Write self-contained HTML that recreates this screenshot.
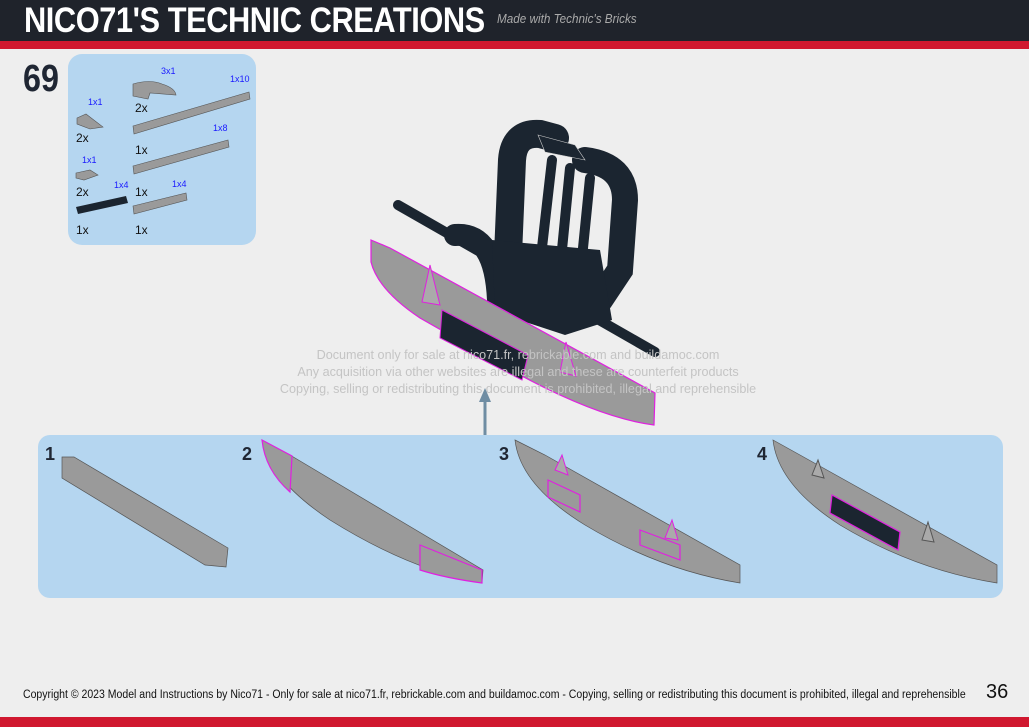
<!DOCTYPE html>
<html><head><meta charset="utf-8"><style>
body{margin:0;width:1029px;height:727px;background:#eeeeee;overflow:hidden;position:relative;font-family:"Liberation Sans",sans-serif}
.hdr{position:absolute;left:0;top:0;width:1029px;height:41px;background:#1f232b}
.red1{position:absolute;left:0;top:41px;width:1029px;height:8px;background:#d0182f}
.title{position:absolute;left:24px;top:1px;color:#fff;font-weight:bold;font-size:35px;letter-spacing:-0.5px;transform:scaleX(0.88);transform-origin:left top;white-space:nowrap}
.sub{position:absolute;left:497px;top:11px;color:#aaa;font-style:italic;font-size:13px;transform:scaleX(0.9);transform-origin:left top}
.red2{position:absolute;left:0;top:717px;width:1029px;height:10px;background:#d0182f}
.foot{position:absolute;left:23px;top:689px;font-size:11.5px;color:#111;transform:scaleX(0.913);transform-origin:left top;white-space:nowrap}
.pg{position:absolute;left:986px;top:681px;font-size:20px;color:#111}
.num{position:absolute;left:23px;top:58px;font-size:38px;font-weight:bold;color:#1f2633;transform:scaleX(0.85);transform-origin:left top}
</style></head><body>
<div class="hdr"></div><div class="red1"></div>
<div class="title">NICO71'S TECHNIC CREATIONS</div>
<div class="sub">Made with Technic's Bricks</div>
<div class="num">69</div>
<svg width="1029" height="727" style="position:absolute;left:0;top:0" font-family="Liberation Sans,sans-serif">
<!-- parts box -->
<rect x="68" y="54" width="188" height="191" rx="14" fill="#b5d6f0"/>
<g font-size="9" fill="#1a1aff">
<text x="161" y="74">3x1</text><text x="230" y="82">1x10</text><text x="88" y="105">1x1</text>
<text x="213" y="131">1x8</text><text x="82" y="163">1x1</text><text x="114" y="188">1x4</text><text x="172" y="187">1x4</text></g>
<g font-size="12" fill="#111">
<text x="135" y="112">2x</text><text x="76" y="142">2x</text><text x="135" y="154">1x</text>
<text x="76" y="196">2x</text><text x="135" y="196">1x</text><text x="76" y="234">1x</text><text x="135" y="234">1x</text></g>
<g fill="#9a9a9a" stroke="#555" stroke-width="0.6">
<path d="M133,84 Q150,79 162,84 Q175,88 176,95 L150,93 L148,99 L133,96Z"/>
<path d="M133,126 L249,92 L250,99 L134,134Z"/>
<path d="M133,166 L228,140 L229,147 L134,174Z"/>
<path d="M133,206 L186,193 L187,200 L134,214Z"/>
<path d="M77,118 L86,114 L103,127 L90,129 L77,124Z"/>
<path d="M76,173 L90,170 L98,175 L84,180 L76,178Z"/>
</g>
<path d="M76,207 L126,196 L128,203 L78,214Z" fill="#1b2530"/>
<!-- main model -->
<g stroke="#1b2530" fill="none" stroke-linecap="round">
<line x1="398" y1="205" x2="655" y2="352" stroke-width="10"/>
<path d="M508,255 L512,160 Q514,132 540,134 L555,138" stroke-width="28"/>
<path d="M585,160 Q625,165 625,200 L620,270 L600,300" stroke-width="26"/>
<line x1="552" y1="160" x2="540" y2="265" stroke-width="10"/>
<line x1="570" y1="168" x2="560" y2="270" stroke-width="10"/>
<line x1="590" y1="178" x2="580" y2="278" stroke-width="10"/>
<path d="M455,235 Q495,232 498,300" stroke-width="22"/>
</g>
<path d="M492,240 L600,250 L612,320 L565,335 L495,312Z" fill="#1b2530"/>
<path d="M538,135 L575,145 L585,160 L545,152Z" fill="#1b2530" stroke="#ccc" stroke-width="0.6"/>
<path d="M371,240 L390,248 L655,393 L654,425 Q600,418 520,375 L420,318 Q378,290 371,262Z" fill="#9a9a9a" stroke="#e020e0" stroke-width="1.2"/>
<path d="M442,310 L528,355 L522,380 L440,338Z" fill="#1b2530" stroke="#e020e0" stroke-width="1"/>
<path d="M422,302 L430,265 L440,305Z M560,372 L566,342 L576,376Z" fill="#aaa" stroke="#e020e0"/>
<g font-size="13" fill="#c4c4c4" text-anchor="middle" transform="translate(518,0) scale(0.97,1) translate(-518,0)">
<text x="518" y="359">Document only for sale at nico71.fr, rebrickable.com and buildamoc.com</text>
<text x="518" y="376">Any acquisition via other websites are illegal and these are counterfeit products</text>
<text x="518" y="393">Copying, selling or redistributing this document is prohibited, illegal and reprehensible</text>
</g>
<line x1="485" y1="435" x2="485" y2="400" stroke="#6f8da3" stroke-width="3"/>
<path d="M479,402 L485,388 L491,402Z" fill="#6f8da3"/>
<!-- sub-steps -->
<rect x="38" y="435" width="965" height="163" rx="12" fill="#b5d6f0"/>
<g font-size="18" font-weight="bold" fill="#1f2633">
<text x="45" y="460">1</text><text x="242" y="460">2</text><text x="499" y="460">3</text><text x="757" y="460">4</text></g>
<g fill="#9a9a9a" stroke="#555" stroke-width="0.7">
<path d="M62,457 L74,457 L228,548 L226,567 L205,565 L62,478Z"/>
<path d="M262,440 L290,455 L483,570 L482,583 Q410,570 330,520 Q270,480 262,440Z"/>
<path d="M515,440 L545,455 L740,565 L740,583 Q660,570 585,525 Q520,485 515,440Z"/>
<path d="M773,440 L800,455 L997,565 L997,583 Q915,570 840,525 Q778,485 773,440Z"/>
</g>
<path d="M262,440 L292,456 L290,492 Q265,470 262,440Z M420,545 L482,570 L482,583 Q445,578 420,570Z" fill="#9a9a9a" stroke="#e020e0" stroke-width="1.2"/>
<path d="M548,480 L580,495 L580,512 L548,497Z M640,530 L680,545 L680,560 L640,545Z" fill="#9a9a9a" stroke="#e020e0" stroke-width="1.2"/>
<path d="M555,470 L562,455 L568,475Z M665,538 L672,520 L678,540Z" fill="#aaa" stroke="#e020e0"/>
<path d="M832,495 L900,532 L898,550 L830,513Z" fill="#1b2530" stroke="#e020e0" stroke-width="1.2"/>
<path d="M812,475 L818,460 L824,478Z M922,540 L928,522 L934,542Z" fill="#aaa" stroke="#555"/>
</svg>
<div class="foot">Copyright © 2023 Model and Instructions by Nico71 - Only for sale at nico71.fr, rebrickable.com and buildamoc.com - Copying, selling or redistributing this document is prohibited, illegal and reprehensible</div>
<div class="pg">36</div>
<div class="red2"></div>
</body></html>
